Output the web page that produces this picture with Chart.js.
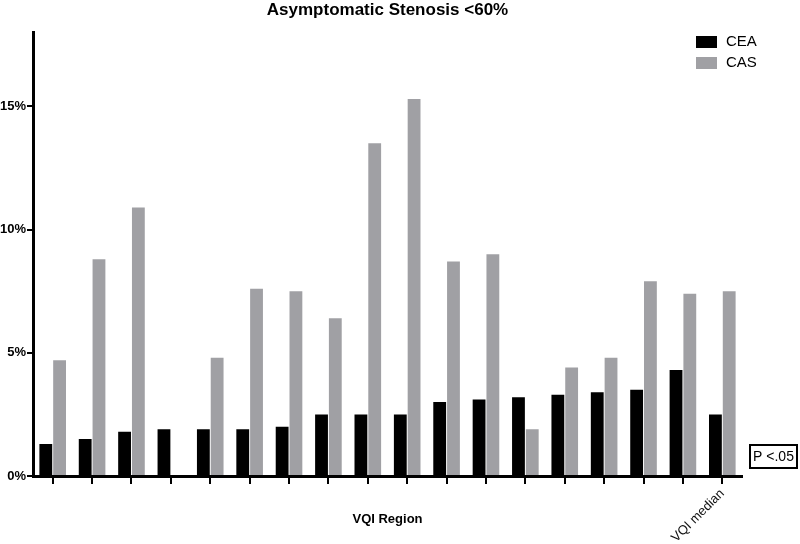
<!DOCTYPE html>
<html>
<head>
<meta charset="utf-8">
<script src="https://cdn.jsdelivr.net/npm/chart.js@4"></script>
<style>
    html, body { margin: 0; padding: 0; background: #fff; }
    #wrap { width: 800px; height: 544px; }
</style>
</head>
<body>
<div id="wrap"><canvas id="stenosisChart" width="800" height="544"></canvas></div>
<script>
// 17 VQI regions + the median
const regions = ['1', '2', '3', '4', '5', '6', '7', '8', '9', '10', '11', '12', '13', '14', '15', '16', '17', 'VQI median'];
const ceaValues = [1.3, 1.5, 1.8, 1.9, 1.9, 1.9, 2.0, 2.5, 2.5, 2.5, 3.0, 3.1, 3.2, 3.3, 3.4, 3.5, 4.3, 2.5];
const casValues = [4.7, 8.8, 10.9, 0, 4.8, 7.6, 7.5, 6.4, 13.5, 15.3, 8.7, 9.0, 1.9, 4.4, 4.8, 7.9, 7.4, 7.5];
const yTicks = [0, 5, 10, 15];

const FONT = '"Liberation Sans", Arial, sans-serif';

// legend, p-value box and x title drawn on the canvas
const extras = {
    id: 'extras',
    afterDraw(chart) {
        const ctx = chart.ctx;
        const area = chart.chartArea;
        ctx.save();

        // legend
        ctx.font = '15px ' + FONT;
        ctx.textBaseline = 'middle';
        ctx.textAlign = 'left';
        chart.data.datasets.forEach((ds, i) => {
            const y = 36 + i * 21;
            ctx.fillStyle = ds.backgroundColor;
            ctx.fillRect(696, y, 21, 12);
            ctx.fillStyle = '#000';
            ctx.fillText(ds.label, 726, y + 6);
        });

        // p value box
        ctx.lineWidth = 2;
        ctx.strokeStyle = '#000';
        ctx.strokeRect(750, 445, 47, 23);
        ctx.font = '14px ' + FONT;
        ctx.textAlign = 'center';
        ctx.fillText('P <.05', 773.5, 457);

        // axis title
        ctx.font = 'bold 13px ' + FONT;
        ctx.fillText('VQI Region', (area.left + area.right) / 2, 519);
        ctx.restore();
    }
};

const ctx = document.getElementById('stenosisChart').getContext('2d');
const stenosisChart = new Chart(ctx, {
    type: 'bar',
    data: {
        labels: regions,
        datasets: [{
            label: 'CEA',
            data: ceaValues,
            backgroundColor: '#000000',
            categoryPercentage: 0.7,
            barPercentage: 0.93
        }, {
            label: 'CAS',
            data: casValues,
            backgroundColor: '#a0a0a4',
            categoryPercentage: 0.7,
            barPercentage: 0.93
        }]
    },
    options: {
        responsive: false,
        animation: false,
        layout: {
            padding: { left: 0, right: 58, top: 0, bottom: 0 }
        },
        plugins: {
            legend: { display: false },
            tooltip: { enabled: false },
            title: {
                display: true,
                text: 'Asymptomatic Stenosis <60%',
                fullSize: false,
                color: '#000',
                font: { family: FONT, size: 17, weight: 'bold' },
                padding: { top: 0, bottom: 12 }
            }
        },
        scales: {
            x: {
                offset: true,
                afterFit: function(scale) { scale.height = 68; },
                border: { display: true, color: '#000', width: 3 },
                grid: {
                    display: true,
                    offset: false,
                    drawOnChartArea: false,
                    drawTicks: true,
                    tickLength: 8,
                    color: '#000',
                    lineWidth: 2
                },
                ticks: {
                    autoSkip: false,
                    minRotation: 45,
                    maxRotation: 45,
                    padding: 2,
                    color: '#111',
                    font: { family: FONT, size: 13 },
                    callback: function(value, index) {
                        const label = this.getLabelForValue(value);
                        return label === 'VQI median' ? label : '';
                    }
                }
            },
            y: {
                min: 0,
                max: 18,
                afterFit: function(scale) { scale.width = 33; },
                afterBuildTicks: function(scale) {
                    scale.ticks = yTicks.map(v => ({ value: v }));
                },
                border: { display: true, color: '#000', width: 3 },
                grid: {
                    display: true,
                    drawOnChartArea: false,
                    drawTicks: true,
                    tickLength: 6,
                    color: '#000',
                    lineWidth: 2
                },
                ticks: {
                    padding: 1,
                    color: '#000',
                    font: { family: FONT, size: 13, weight: 'bold' },
                    callback: function(value) { return value + '%'; }
                }
            }
        }
    },
    plugins: [extras]
});
</script>
</body>
</html>
